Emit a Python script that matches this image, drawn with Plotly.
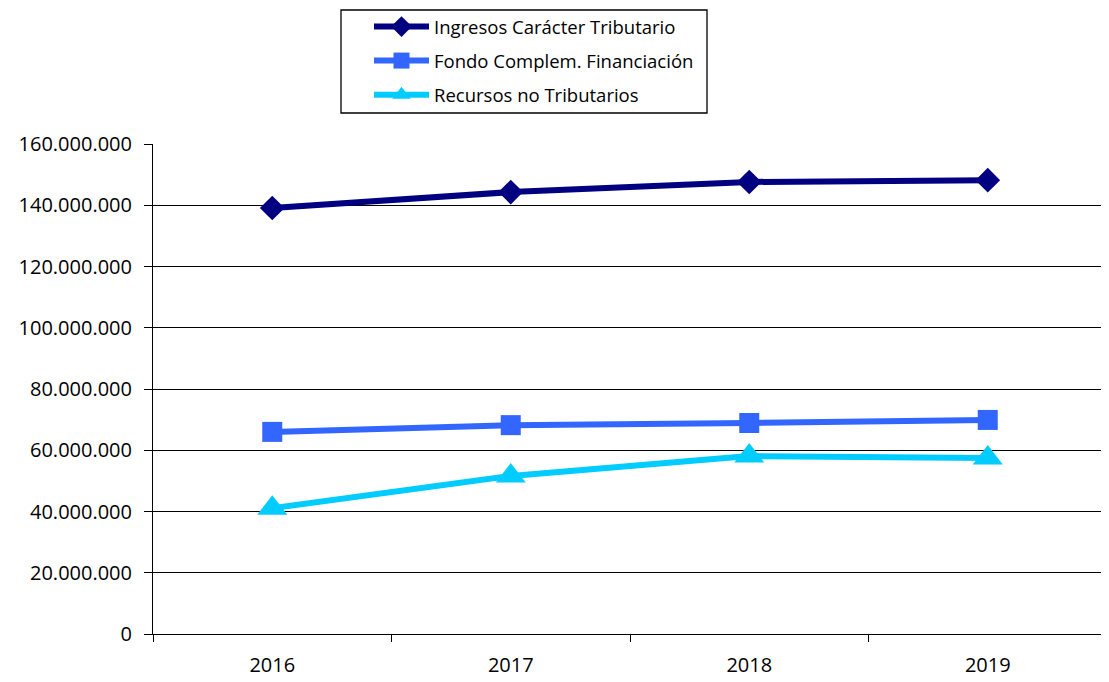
import plotly.graph_objects as go

anios = ["2016", "2017", "2018", "2019"]
ingresos = [139_100_000, 144_300_000, 147_600_000, 148_200_000]
fondo = [66_000_000, 68_200_000, 68_900_000, 69_900_000]
recursos = [41_100_000, 51_600_000, 58_100_000, 57_500_000]

FUENTE = "Open Sans"

series = [
    ("Ingresos Carácter Tributario", ingresos, "#000080", "diamond", 19),
    ("Fondo Complem. Financiación", fondo, "#3366FF", "square", 20),
    ("Recursos no Tributarios", recursos, "#00CCFF", "triangle-up", 26),
]

fig = go.Figure()
for i, (nombre, valores, color, simbolo, tam) in enumerate(series):
    fig.add_trace(go.Scatter(
        x=anios, y=valores, name=nombre, mode="lines+markers",
        line=dict(color=color, width=6),
        marker=dict(symbol=simbolo, size=tam, color=color),
        legendgroup=f"g{i}",
    ))

ALTO_PLOT = 490
ANCHO_PLOT = 954
M_IZQ, M_SUP = 145, 136

# la página desplaza el gráfico unos 8 px, se compensa en los márgenes
fig.update_layout(
    width=1109, height=682,
    paper_bgcolor="white", plot_bgcolor="white",
    margin=dict(l=M_IZQ, r=10, t=M_SUP, b=56, autoexpand=False),
    separators=",.",
    font=dict(family=FUENTE, color="black", size=20),
    showlegend=True,
    legend=dict(
        xref="container", yref="container",
        x=(369 - 8) / 1109, y=1.0,
        xanchor="left", yanchor="top",
        borderwidth=0, bgcolor="rgba(0,0,0,0)",
        font=dict(family=FUENTE, size=18.5, color="black"),
        tracegroupgap=7, itemwidth=55,
    ),
)
# marco de la leyenda
fig.add_shape(
    type="rect", xref="paper", yref="paper",
    x0=(333 - M_IZQ) / ANCHO_PLOT, x1=(699 - M_IZQ) / ANCHO_PLOT,
    y0=1 + (M_SUP - 105) / ALTO_PLOT, y1=1 + (M_SUP - 2) / ALTO_PLOT,
    line=dict(color="black", width=1.3), fillcolor="rgba(0,0,0,0)", layer="below",
)
fig.update_xaxes(
    type="category", range=[-0.5, 3.5],
    showline=True, linecolor="black", linewidth=1,
    ticks="outside", tickson="boundaries", ticklen=7, tickcolor="black",
    showgrid=False, tickfont=dict(size=20), ticklabelstandoff=13,
)
fig.update_yaxes(
    range=[0, 160_000_000], dtick=20_000_000, tickformat=",.0f",
    showline=True, linecolor="black", linewidth=1,
    ticks="outside", ticklen=8, tickcolor="black",
    showgrid=True, gridcolor="black", gridwidth=1,
    zeroline=False, tickfont=dict(size=20), ticklabelstandoff=8,
)

fig.write_html("out.html")
